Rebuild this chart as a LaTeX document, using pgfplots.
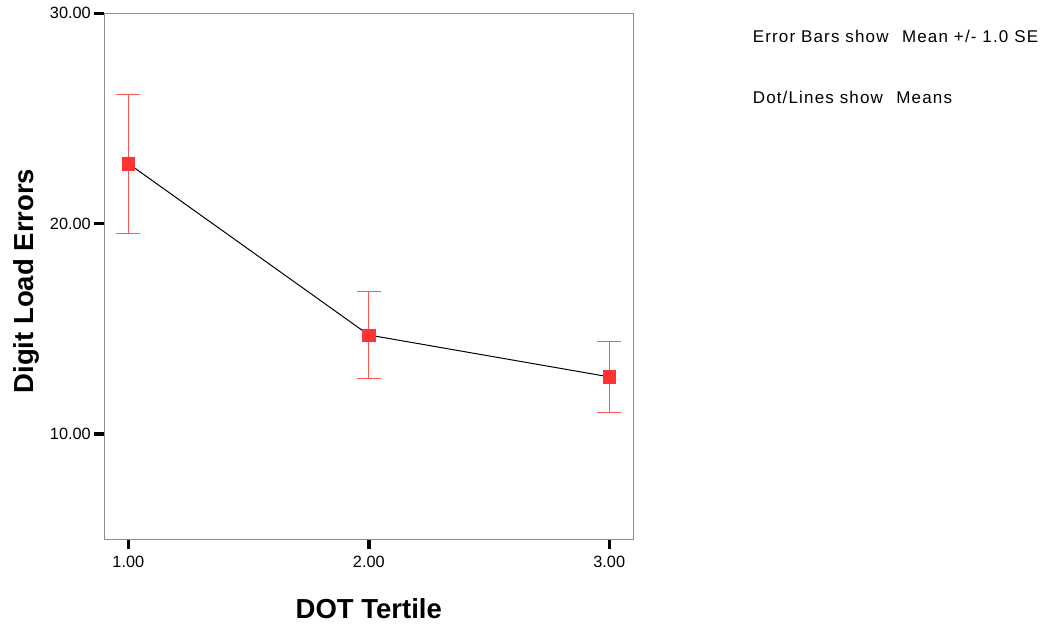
\documentclass[border=0pt]{standalone}
\usepackage{pgfplots}
\pgfplotsset{compat=1.18}
\usepackage{fontspec}
\setmainfont{Liberation Sans}
\definecolor{mred}{HTML}{FF3333}
\definecolor{ebred}{HTML}{FF5555}
\definecolor{boxgray}{HTML}{8C8C8C}
\pgfplotstableread{
x y ep em
1 22.86 3.28 3.32
2 14.71 2.05 2.05
3 12.72 1.68 1.71
}\means
\begin{document}
\begin{tikzpicture}
\useasboundingbox (0,0) rectangle (1050bp,629bp);
\begin{axis}[
  at={(104.3bp,89.7bp)}, anchor=south west,
  width=529bp, height=526bp, scale only axis,
  xmin=0.9, xmax=3.1, ymin=5, ymax=30,
  xtick={1,2,3}, ytick={10,20,30},
  xtick pos=bottom, ytick pos=left,
  tick align=outside,
  major tick length=10bp,
  tick style={black, line width=3.5bp},
  axis line style={boxgray, line width=1.2bp},
  /pgf/number format/.cd, fixed, fixed zerofill, precision=2, assume math mode=true,
  /pgfplots/.cd,
  ticklabel style={font=\fontsize{16.3bp}{19bp}\selectfont},
  xticklabel style={yshift=-3bp},
  xlabel={DOT Tertile}, ylabel={Digit Load Errors},
  label style={font=\fontsize{27.5bp}{32bp}\selectfont\bfseries},
  xlabel style={at={(axis description cs:0.5,-0.1515)}, anchor=base},
  ylabel style={at={(axis description cs:-0.1342,0.4909)}, anchor=base},
  clip=false,
]
\addplot[only marks, mark=square*, mark size=6.3bp, mark options={fill=mred, draw=mred},
  error bars/.cd, y dir=both, y explicit,
  error bar style={ebred, line width=1bp},
  error mark options={rotate=90, ebred, mark size=12bp, line width=1bp}]
  table[x=x, y=y, y error plus=ep, y error minus=em] {\means};
\addplot[black, line width=1bp, no marks] table[x=x, y=y] {\means};
\end{axis}
\node[anchor=base west, font=\fontsize{17bp}{20bp}\selectfont\addfontfeatures{LetterSpace=6.8}] at (749.3bp,586.7bp) {Error Bars show\hspace{0.45em} Mean +/- 1.0 SE};
\node[anchor=base west, font=\fontsize{17bp}{20bp}\selectfont\addfontfeatures{LetterSpace=6.8}] at (749.3bp,525.7bp) {Dot/Lines show\hspace{0.45em} Means};
\end{tikzpicture}
\end{document}
